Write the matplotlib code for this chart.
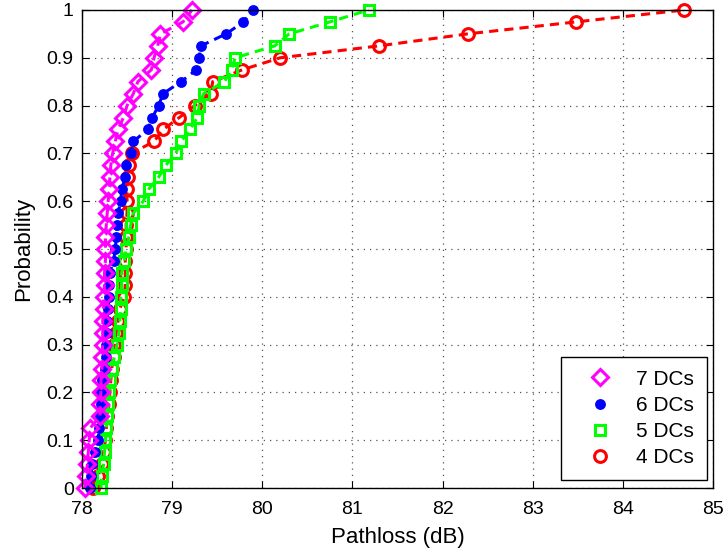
import matplotlib
matplotlib.use("Agg")
import matplotlib.pyplot as plt

# ── data: empirical CDF of pathloss per number of DCs ──────────────────────
prob = [0.0, 0.025, 0.05, 0.075, 0.1, 0.125, 0.15, 0.175, 0.2, 0.225,
        0.25, 0.275, 0.3, 0.325, 0.35, 0.375, 0.4, 0.425, 0.45, 0.475,
        0.5, 0.525, 0.55, 0.575, 0.6, 0.625, 0.65, 0.675, 0.7, 0.725,
        0.75, 0.775, 0.8, 0.825, 0.85, 0.875, 0.9, 0.925, 0.95, 0.975, 1.0]

pl_7dc = [78.03, 78.05, 78.06, 78.07, 78.08, 78.09, 78.20, 78.20, 78.21, 78.21,
          78.22, 78.22, 78.23, 78.23, 78.23, 78.24, 78.24, 78.25, 78.25, 78.26,
          78.26, 78.26, 78.27, 78.28, 78.29, 78.30, 78.31, 78.32, 78.34, 78.37,
          78.40, 78.46, 78.50, 78.57, 78.62, 78.77, 78.80, 78.84, 78.87, 79.12,
          79.22]

pl_6dc = [78.09, 78.10, 78.11, 78.15, 78.18, 78.19, 78.20, 78.21, 78.21, 78.22,
          78.26, 78.27, 78.27, 78.28, 78.28, 78.29, 78.30, 78.30, 78.31, 78.35,
          78.37, 78.38, 78.39, 78.40, 78.43, 78.44, 78.48, 78.49, 78.54, 78.57,
          78.73, 78.78, 78.85, 78.90, 79.10, 79.27, 79.30, 79.32, 79.60, 79.79,
          79.90]

pl_5dc = [78.21, 78.22, 78.24, 78.25, 78.26, 78.27, 78.28, 78.29, 78.30, 78.31,
          78.33, 78.36, 78.39, 78.41, 78.42, 78.43, 78.43, 78.44, 78.44, 78.47,
          78.49, 78.52, 78.54, 78.57, 78.68, 78.74, 78.85, 78.93, 79.04, 79.10,
          79.20, 79.28, 79.30, 79.35, 79.58, 79.66, 79.70, 80.14, 80.30, 80.75,
          81.18]

pl_4dc = [78.12, 78.18, 78.22, 78.24, 78.26, 78.27, 78.28, 78.30, 78.31, 78.32,
          78.33, 78.35, 78.36, 78.38, 78.40, 78.42, 78.47, 78.48, 78.48, 78.48,
          78.49, 78.49, 78.49, 78.50, 78.50, 78.50, 78.51, 78.52, 78.55, 78.80,
          78.90, 79.08, 79.25, 79.43, 79.45, 79.78, 80.20, 81.30, 82.28, 83.48,
          84.68]

xticks = [78, 79, 80, 81, 82, 83, 84, 85]
yticks = [0, 0.1, 0.2, 0.3, 0.4, 0.5, 0.6, 0.7, 0.8, 0.9, 1]
ytick_labels = ["0", "0.1", "0.2", "0.3", "0.4", "0.5", "0.6", "0.7", "0.8", "0.9", "1"]

plt.rcParams["font.family"] = ["Liberation Sans", "DejaVu Sans"]

fig = plt.figure(figsize=(7.28, 5.54), dpi=100)
ax = fig.add_axes([0.1126, 0.1191, 0.8667, 0.8629])

# plot order 4 -> 7 so magenta ends on top (like MATLAB hold on)
series = [
    (pl_4dc, "#ff0000", "o", 8.5, "none", 2.2, "4 DCs"),
    (pl_5dc, "#00ff00", "s", 6.5, "none", 2.2, "5 DCs"),
    (pl_6dc, "#0000ff", "o", 6.3, "#0000ff", 1.5, "6 DCs"),
    (pl_7dc, "#ff00ff", "D", 8.5, "none", 2.2, "7 DCs"),
]
handles = {}
for x, col, mk, ms, fc, mew, lab in series:
    ax.plot(x, prob, linestyle="--", dashes=(3, 2), color=col, linewidth=2.2,
            clip_on=False)
    h, = ax.plot(x, prob, linestyle="none", marker=mk, markersize=ms,
                 markerfacecolor=fc, markeredgecolor=col, markeredgewidth=mew,
                 clip_on=False, label=lab)
    handles[lab] = h

ax.set_xlim(78, 85)
ax.set_ylim(0, 1)
ax.set_xticks(xticks)
ax.set_yticks(yticks)
ax.set_yticklabels(ytick_labels)
ax.tick_params(direction="in", top=True, right=True, labelsize=14, length=5,
               width=0.8)
ax.tick_params(axis="x", pad=9)
ax.tick_params(axis="y", pad=6)
ax.grid(True, linestyle=(0, (1, 4)), color="#555555", linewidth=0.9)
for sp in ax.spines.values():
    sp.set_linewidth(1.0)

ax.set_xlabel("Pathloss (dB)", fontsize=16, labelpad=7)
ax.set_ylabel("Probability", fontsize=16, labelpad=9)

order = ["7 DCs", "6 DCs", "5 DCs", "4 DCs"]
leg = ax.legend([handles[k] for k in order], order, loc="lower right",
                bbox_to_anchor=(0.99, 0.017), fontsize=15, frameon=True,
                fancybox=False, edgecolor="black", framealpha=1,
                handlelength=2.5, handletextpad=0.5, borderpad=0.6,
                labelspacing=0.35, borderaxespad=0)
leg.get_frame().set_linewidth(1.0)
leg.set_zorder(5)

plt.savefig("out.png", dpi=100)
